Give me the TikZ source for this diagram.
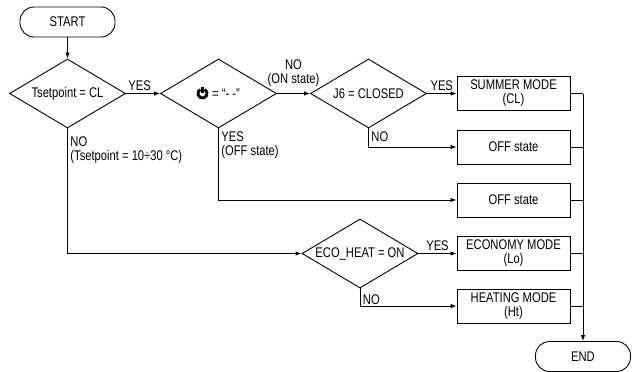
\documentclass[tikz,border=0pt]{standalone}
\usepackage{fontspec}
\setmainfont{Liberation Sans}[FakeStretch=0.8]
\usetikzlibrary{shapes.geometric,arrows.meta}

\begin{document}
\begin{tikzpicture}[x=1pt,y=-1pt,line width=0.9pt,
  every node/.style={font=\fontsize{14}{14}\selectfont},
  term/.style={draw,rounded corners=14pt,minimum width=95pt,minimum height=30pt,inner sep=0pt},
  decision/.style={draw,diamond,minimum width=116pt,minimum height=69pt,inner sep=0pt,aspect=1.7},
  modebox/.style={draw,minimum width=113pt,minimum height=34pt,inner sep=0pt,align=center},
  flow/.style={-{Latex[length=6pt,width=4.5pt]}},
  lbl/.style={inner sep=2.5pt,align=left}]
\useasboundingbox (0,0) rectangle (637,372);

%Start and the three tests in the top row
\node[term] (start) at (67.5,22) {START};
\node[decision] (cl) at (67.5,93.5) {Tsetpoint = CL};
\node[decision] (pwr) at (218.5,93.5) {\hspace{15pt}= “- -”};
\node[decision] (j6) at (368.5,93.5) {J6 = CLOSED};
\node[decision] (eco) at (360,253.5) {ECO\_HEAT = ON};

%Power symbol inside the second test
\coordinate (icon) at ([xshift=-16pt]pwr.center);
\begin{scope}[shift={(icon)},y=1pt,line width=2.8pt]
\draw (62:4.6) arc[start angle=62,end angle=-242,radius=4.6];
\draw (0,0.3) -- (0,6.6);
\end{scope}

%Resulting modes
\node[modebox] (summer) at (513.5,93.5) {SUMMER MODE\\(CL)};
\node[modebox] (off1) at (513.5,147) {OFF state};
\node[modebox] (off2) at (513.5,200) {OFF state};
\node[modebox] (economy) at (513.5,253.5) {ECONOMY MODE\\(Lo)};
\node[modebox] (heating) at (513.5,306) {HEATING MODE\\(Ht)};
\node[term] (end) at (583,356.5) {END};

\draw[flow] (start) -- (cl);
\draw[flow] (cl) -- node[lbl,anchor=south,pos=0.4] {YES} (pwr);
\draw[flow] (pwr) -- node[lbl,anchor=south,align=center,yshift=4pt] {NO\\(ON state)} (j6);
\draw[flow] (j6) -- node[lbl,anchor=south] {YES} (summer);
\draw[flow] (j6.south) |- node[lbl,anchor=north west,pos=0] {NO} (off1.west);
\draw[flow] (pwr.south) |- node[lbl,anchor=north west,pos=0] {YES\\(OFF state)} (off2.west);
\draw[flow] (cl.south) |- node[lbl,anchor=north west,pos=0,yshift=-5pt] {NO\\(Tsetpoint = 10÷30 °C)} (eco.west);
\draw[flow] (eco) -- node[lbl,anchor=south] {YES} (economy);
\draw[flow] (eco.south) |- node[lbl,anchor=north west,pos=0,yshift=-3pt] {NO} (heating.west);

%Collector line to the end
\coordinate (bus) at (583,93.5);
\foreach \b in {summer,off1,off2,economy,heating}
  \draw (\b.east) -- (\b.east -| bus);
\draw[flow] (bus) -- (end);

\end{tikzpicture}
\end{document}
